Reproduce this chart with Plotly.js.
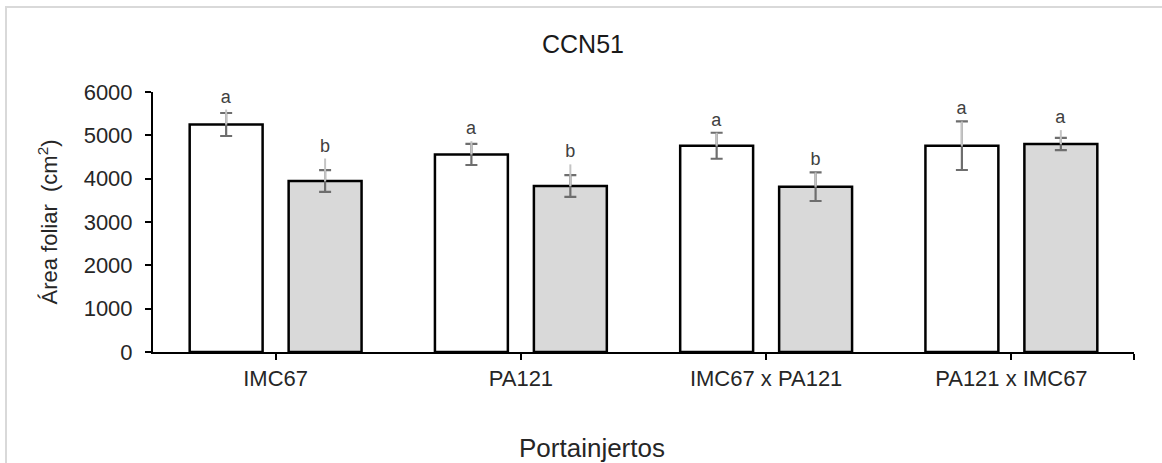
<!DOCTYPE html>
<html>
<head>
<meta charset="utf-8">
<script src="https://cdn.plot.ly/plotly-3.0.1.min.js"></script>
<style>
  html, body { margin: 0; padding: 0; background: #ffffff; overflow: hidden; }
  #wrap { position: relative; width: 1162px; height: 463px; }
  #chart { position: absolute; left: 0; top: 0; width: 1162px; height: 463px; }
  #frame { position: absolute; left: 5px; top: 6px; width: 1200px; height: 520px;
           border: 2px solid #d9d9d9; pointer-events: none; }
</style>
</head>
<body>
<div id="wrap">
  <div id="chart"></div>
  <div id="frame"></div>
</div>
<script>
// Rootstocks (x categories)
const categories = ['IMC67', 'PA121', 'IMC67 x PA121', 'PA121 x IMC67'];

// Leaf area means (cm²) for the two series
const whiteValues = [5250, 4560, 4760, 4760];
const grayValues  = [3945, 3830, 3815, 4800];

// Error bars (± dark, with caps)
const whiteErr = [265, 245, 300, 560];
const grayErr  = [250, 250, 330, 140];

// Upper light stem of the error bars
const whiteErrUpper = [345, 305, 300, 560];
const grayErrUpper  = [520, 500, 330, 320];

// Significance letters
const whiteLetters = ['a', 'a', 'a', 'a'];
const grayLetters  = ['b', 'b', 'b', 'a'];

const yTicks = [0, 1000, 2000, 3000, 4000, 5000, 6000];

const xs = categories.map((_, i) => i);
const FONT = 'Liberation Sans, Arial, sans-serif';
const DARK_ERR = '#6e6e6e';
const LIGHT_ERR = '#c4c4c4';

function barTrace(values, err, fill, group) {
  return {
    type: 'bar', x: xs, y: values, offsetgroup: group,
    marker: { color: fill, line: { color: '#000000', width: 2.5 } },
    error_y: { type: 'data', array: err, symmetric: true, color: DARK_ERR, thickness: 2.2, width: 6 },
    hoverinfo: 'skip', showlegend: false
  };
}
function stemTrace(values, upper, group) {
  return {
    type: 'bar', x: xs, y: values, offsetgroup: group,
    marker: { color: 'rgba(0,0,0,0)', line: { width: 0 } },
    error_y: { type: 'data', array: upper, arrayminus: upper.map(() => 0), symmetric: false,
               color: LIGHT_ERR, thickness: 2, width: 0 },
    hoverinfo: 'skip', showlegend: false
  };
}
function letterTrace(values, upper, letters, group) {
  return {
    type: 'bar', x: xs, y: values.map((v, i) => v + upper[i]), offsetgroup: group,
    marker: { color: 'rgba(0,0,0,0)', line: { width: 0 } },
    text: letters, textposition: 'outside', constraintext: 'none', cliponaxis: false,
    outsidetextfont: { family: FONT, size: 18, color: '#404040' },
    hoverinfo: 'skip', showlegend: false
  };
}

const data = [
  letterTrace(whiteValues, whiteErrUpper, whiteLetters, 'w'),
  letterTrace(grayValues, grayErrUpper, grayLetters, 'g'),
  barTrace(whiteValues, whiteErr, '#ffffff', 'w'),
  barTrace(grayValues, grayErr, '#d9d9d9', 'g'),
  stemTrace(whiteValues, whiteErrUpper, 'w'),
  stemTrace(grayValues, grayErrUpper, 'g')
];

const layout = {
  width: 1162, height: 463,
  margin: { l: 153, r: 28, t: 92, b: 110.5 },
  paper_bgcolor: '#ffffff', plot_bgcolor: '#ffffff',
  barmode: 'group', bargap: 0.193, bargroupgap: 0.263,
  font: { family: FONT, color: '#262626' },
  title: { text: 'CCN51', font: { family: FONT, size: 25, color: '#1a1a1a' },
           x: 583 / 1162, xanchor: 'center', xref: 'container', y: 1 - 44 / 463, yanchor: 'middle' },
  xaxis: {
    range: [-0.5, 3.5], tickmode: 'array',
    tickvals: xs, ticktext: categories,
    showgrid: false, zeroline: false,
    showline: true, linecolor: '#000000', linewidth: 2,
    ticks: 'outside', ticklen: 6, tickwidth: 2, tickcolor: '#000000',
    minor: { tickmode: 'array', tickvals: [3.5], ticks: 'outside', ticklen: 6, tickwidth: 2, tickcolor: '#000000', showgrid: false },
    tickfont: { family: FONT, size: 22, color: '#262626' }
  },
  yaxis: {
    range: [0, 6000], tickmode: 'array', tickvals: yTicks,
    showgrid: false, zeroline: false,
    showline: true, linecolor: '#000000', linewidth: 2,
    ticks: 'outside', ticklen: 6, tickwidth: 2, tickcolor: '#000000',
    ticklabelstandoff: 8,
    tickfont: { family: FONT, size: 22, color: '#262626' },
    title: { text: 'Área foliar  (cm<sup>2</sup>)', font: { family: FONT, size: 22, color: '#262626' }, standoff: 20 }
  },
  annotations: [{
    text: 'Portainjertos', xref: 'paper', yref: 'paper',
    x: (592 - 153) / 981, y: (352.5 - 449) / 260.5, xanchor: 'center', yanchor: 'middle',
    showarrow: false, font: { family: FONT, size: 26, color: '#262626' }
  }]
};

Plotly.newPlot('chart', data, layout, { staticPlot: true, displayModeBar: false });
</script>
</body>
</html>
